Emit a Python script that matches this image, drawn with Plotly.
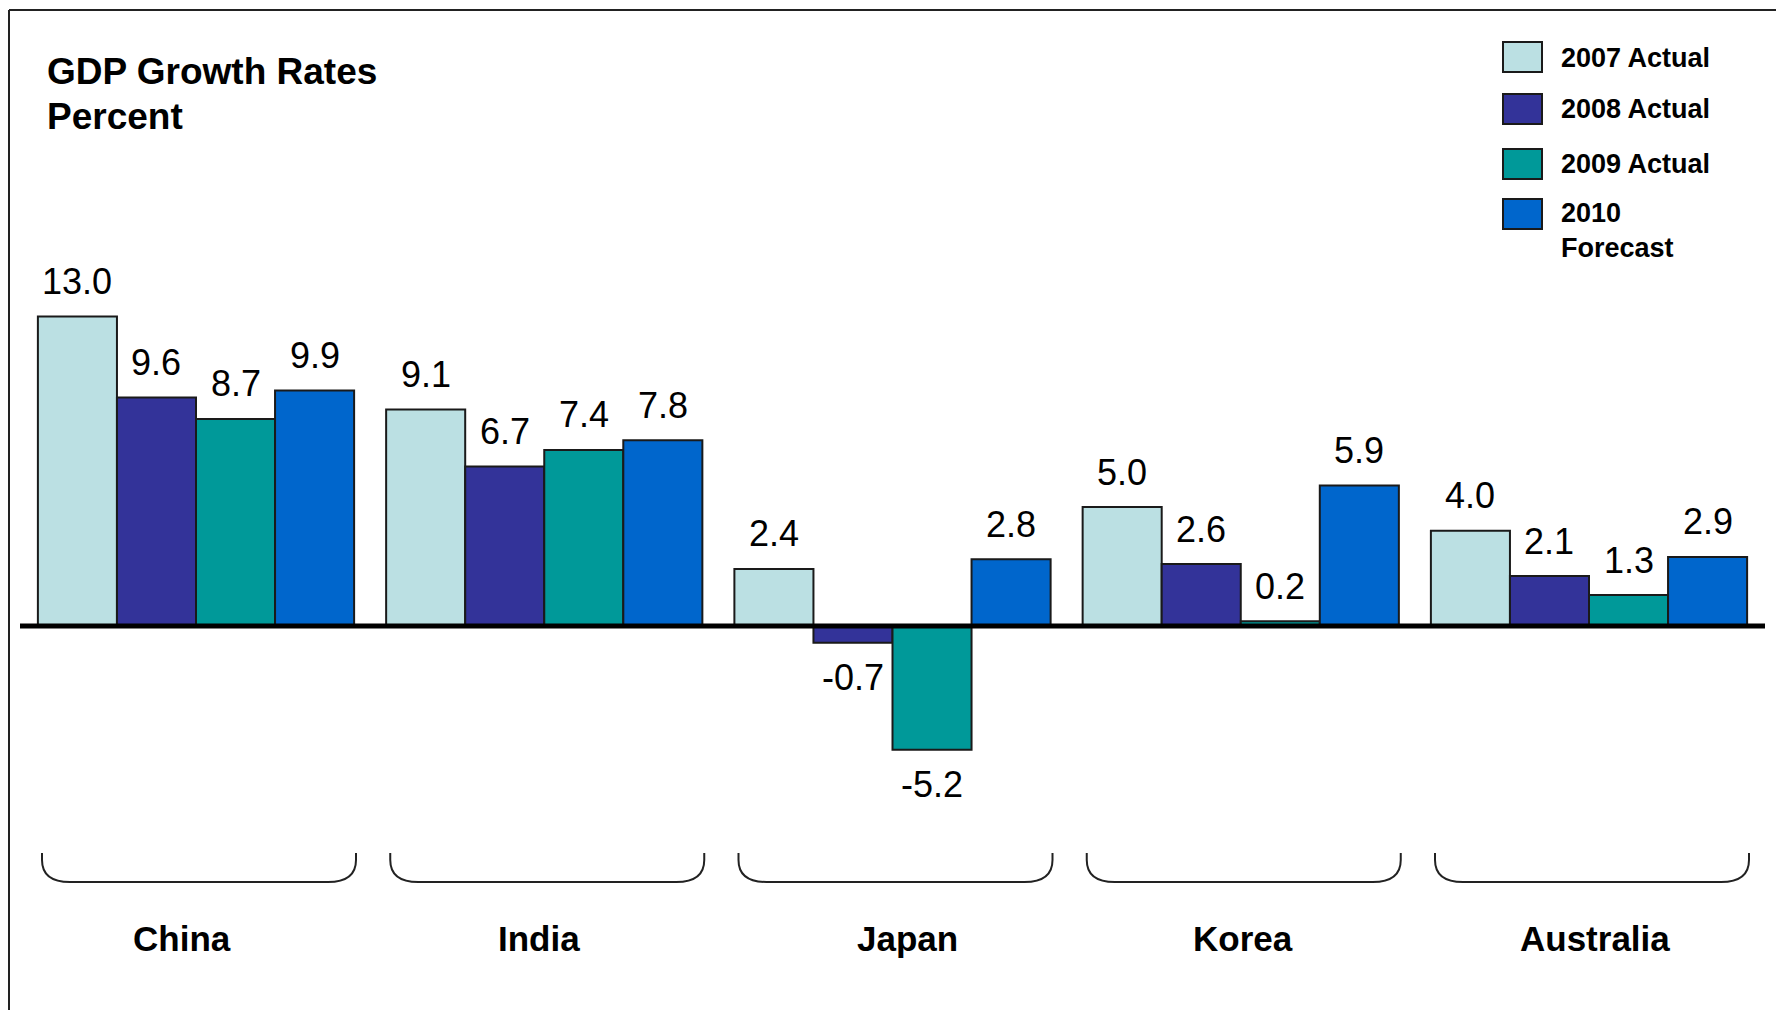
import plotly.graph_objects as go

# ---- data ----
countries = ["China", "India", "Japan", "Korea", "Australia"]
series_names = ["2007 Actual", "2008 Actual", "2009 Actual", "2010<br>Forecast"]
gdp_2007 = [13.0, 9.1, 2.4, 5.0, 4.0]
gdp_2008 = [9.6, 6.7, -0.7, 2.6, 2.1]
gdp_2009 = [8.7, 7.4, -5.2, 0.2, 1.3]
gdp_2010 = [9.9, 7.8, 2.8, 5.9, 2.9]
series_values = [gdp_2007, gdp_2008, gdp_2009, gdp_2010]
title_lines = ["GDP Growth Rates", "Percent"]

# ---- styling ----
colors = ["#BBE0E3", "#333399", "#009999", "#0066CC"]
FONT = "Liberation Sans, Arial, Helvetica, sans-serif"
W, H = 1776, 1010

# pixel geometry of the plotting surface (plot area fills the whole page)
X0_PX, GROUP_PX = 196.0, 348.25      # centre of first group, spacing of groups
Y0_PX, UNIT_PX = 626.0, 23.8         # zero line, pixels per percentage point


def xd(px):
    return (px - X0_PX) / GROUP_PX


def yd(py):
    return (Y0_PX - py) / UNIT_PX


bargap = 0.092
bar_w = (1 - bargap) / len(series_values)
xs = list(range(len(countries)))

fig = go.Figure()
for name, vals, col in zip(series_names, series_values, colors):
    fig.add_trace(go.Bar(
        x=xs, y=vals, name=name.replace("<br>", " "),
        marker=dict(color=col, line=dict(color="#1a1a1a", width=2)),
        showlegend=False, hoverinfo="skip",
    ))

annotations = []
shapes = []

# value labels above / below each bar
for j, vals in enumerate(series_values):
    off = (-1.5 + j) * bar_w
    for i, v in enumerate(vals):
        annotations.append(dict(
            x=i + off, y=v, xref="x", yref="y", text=f"{v:.1f}",
            showarrow=False, xanchor="center", yanchor="middle",
            yshift=35 if v >= 0 else -35,
            font=dict(family=FONT, size=36, color="#000000"),
        ))

# zero baseline
shapes.append(dict(type="line", xref="x", yref="y", x0=xd(20), x1=xd(1765),
                   y0=0, y1=0, line=dict(color="#000000", width=5), layer="above"))

# group brackets and country names
label_nudge_px = [-14, -5, 15, 2, 6]
yt, yb = yd(853), yd(882)
ry = 22 / UNIT_PX
rx = 28 / GROUP_PX
for i, c in enumerate(countries):
    xl = i + xd(X0_PX - 154)
    xr = i + xd(X0_PX + 160)
    path = (f"M{xl},{yt} L{xl},{yb + ry} Q{xl},{yb} {xl + rx},{yb} "
            f"L{xr - rx},{yb} Q{xr},{yb} {xr},{yb + ry} L{xr},{yt}")
    shapes.append(dict(type="path", xref="x", yref="y", path=path,
                       line=dict(color="#222222", width=2)))
    annotations.append(dict(
        x=i, y=yd(938), xref="x", yref="y", text=f"<b>{c}</b>",
        showarrow=False, xanchor="center", yanchor="middle",
        xshift=label_nudge_px[i],
        font=dict(family=FONT, size=35, color="#000000"),
    ))

# title block, one annotation per line
for line, cy in zip(title_lines, [71, 117]):
    annotations.append(dict(
        x=45 / W, y=1 - cy / H, xref="paper", yref="paper",
        text=f"<b>{line}</b>", align="left",
        showarrow=False, xanchor="left", yanchor="middle",
        font=dict(family=FONT, size=37, color="#000000"),
    ))

# legend: swatches and names
swatch_tops = [42, 94, 149, 199]
text_centres = [58, 109, 164, 231]
for name, col, top, tc in zip(series_names, colors, swatch_tops, text_centres):
    shapes.append(dict(type="rect", xref="paper", yref="paper",
                       x0=1503 / W, x1=1542 / W, y0=1 - top / H, y1=1 - (top + 30) / H,
                       fillcolor=col, line=dict(color="#1a1a1a", width=2)))
    annotations.append(dict(
        x=1559 / W, y=1 - tc / H, xref="paper", yref="paper",
        text=f"<b>{name}</b>", align="left",
        showarrow=False, xanchor="left", yanchor="middle",
        font=dict(family=FONT, size=27, color="#000000"),
    ))

# frame: top and left edges
shapes.append(dict(type="line", xref="paper", yref="paper",
                   x0=9 / W, x1=1.0, y0=1 - 10 / H, y1=1 - 10 / H,
                   line=dict(color="#222222", width=2)))
shapes.append(dict(type="line", xref="paper", yref="paper",
                   x0=9 / W, x1=9 / W, y0=1 - 10 / H, y1=0,
                   line=dict(color="#222222", width=2)))

fig.update_layout(
    width=W, height=H,
    margin=dict(l=0, r=0, t=0, b=0, pad=0),
    paper_bgcolor="white", plot_bgcolor="white",
    barmode="group", bargap=bargap, bargroupgap=0,
    xaxis=dict(range=[xd(0), xd(W)], visible=False, fixedrange=True),
    yaxis=dict(range=[yd(H), yd(0)], visible=False, fixedrange=True),
    annotations=annotations, shapes=shapes,
    showlegend=False,
)

fig.write_html("out.html", config={"displayModeBar": False})
